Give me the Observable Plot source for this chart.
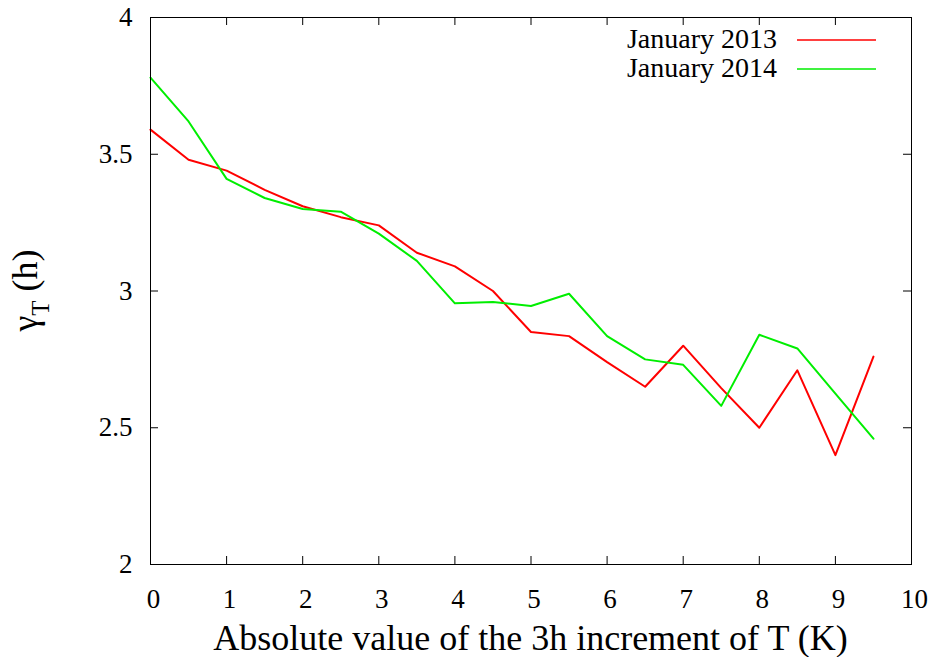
<!DOCTYPE html>
<html>
<head>
<meta charset="utf-8">
<script src="https://cdn.jsdelivr.net/npm/d3@7"></script>
<script src="https://cdn.jsdelivr.net/npm/@observablehq/plot@0.6"></script>
<style>
  html, body { margin: 0; padding: 0; background: #fff; }
  #chart svg { display: block; }
  #chart svg, #chart svg text {
    font-family: "Liberation Serif", "Tinos", "Nimbus Roman", "Nimbus Roman No9 L", "FreeSerif",
                 "Times New Roman", "Times", "DejaVu Serif", "Noto Serif", serif;
  }
</style>
</head>
<body>
<div id="chart"></div>
<script>
// Absolute 3h temperature increment (K), binned every 0.5 K
const increments = [0, 0.5, 1, 1.5, 2, 2.5, 3, 3.5, 4, 4.5, 5, 5.5, 6, 6.5, 7, 7.5, 8, 8.5, 9, 9.5];

// gamma_T (h) for each month
const jan2013 = [3.59, 3.48, 3.44, 3.37, 3.31, 3.27, 3.24, 3.14, 3.09, 3.00,
                 2.85, 2.835, 2.74, 2.65, 2.80, 2.645, 2.50, 2.71, 2.40, 2.76];
const jan2014 = [3.78, 3.62, 3.41, 3.34, 3.30, 3.29, 3.21, 3.11, 2.955, 2.96,
                 2.945, 2.99, 2.835, 2.75, 2.73, 2.58, 2.84, 2.79, 2.625, 2.46];

const seriesNames = ["January 2013", "January 2014"];
const seriesColors = ["#ff0000", "#00ee00"];

const xTicks = [0, 1, 2, 3, 4, 5, 6, 7, 8, 9, 10];
const yTicks = [2, 2.5, 3, 3.5, 4];
const yTickLabels = ["2", "2.5", "3", "3.5", "4"];

const W = 935, H = 657;
const mL = 150, mR = 24, mT = 17, mB = 93;
const innerW = W - mL - mR, innerH = H - mT - mB;
const tickLen = 8;

const chart = Plot.plot({
  width: W,
  height: H,
  marginLeft: mL,
  marginRight: mR,
  marginTop: mT,
  marginBottom: mB,
  style: { fontSize: "27px", background: "#fff", color: "#000" },
  x: { domain: [0, 10] },
  y: { domain: [2, 4] },
  marks: [
    // inward ticks on all four sides of the frame
    Plot.tickX(xTicks, { x: d => d, insetTop: innerH - tickLen, stroke: "#000" }),
    Plot.tickX(xTicks, { x: d => d, insetBottom: innerH - tickLen, stroke: "#000" }),
    Plot.tickY(yTicks, { y: d => d, insetRight: innerW - tickLen, stroke: "#000" }),
    Plot.tickY(yTicks, { y: d => d, insetLeft: innerW - tickLen, stroke: "#000" }),
    Plot.axisX(xTicks, { anchor: "bottom", tickSize: 0, tickPadding: 24, label: null, fontSize: 27, dx: 3 }),
    Plot.axisY(yTicks, { anchor: "left", tickSize: 0, tickPadding: 18, label: null, fontSize: 27,
                         tickFormat: d => yTickLabels[yTicks.indexOf(d)] }),
    Plot.lineY(jan2013, { x: increments, stroke: seriesColors[0], strokeWidth: 2 }),
    Plot.lineY(jan2014, { x: increments, stroke: seriesColors[1], strokeWidth: 2 }),
    Plot.frame({ stroke: "#000", strokeWidth: 1 })
  ]
});

document.getElementById("chart").appendChild(chart);

const svg = d3.select(chart);
const xs = chart.scale("x"), ys = chart.scale("y");

// x-axis title
svg.append("text")
  .attr("x", (xs.apply(0) + xs.apply(10)) / 2)
  .attr("y", H - 7)
  .attr("text-anchor", "middle")
  .attr("font-size", 36)
  .attr("fill", "#000")
  .text("Absolute value of the 3h increment of T (K)");

// y-axis title with subscript
const yl = svg.append("text")
  .attr("transform", `translate(37,${(ys.apply(2) + ys.apply(4)) / 2}) rotate(-90)`)
  .attr("text-anchor", "middle")
  .attr("font-size", 36)
  .attr("fill", "#000");
yl.append("tspan").text("γ");
yl.append("tspan").attr("dy", 12).attr("font-size", 25).text("T");
yl.append("tspan").attr("dy", -12).text(" (h)");

// key in the upper right corner
const key = svg.append("g").attr("font-size", 28).attr("fill", "#000");
seriesNames.forEach((name, i) => {
  const yBase = 48 + i * 29;
  key.append("text")
    .attr("x", 777)
    .attr("y", yBase)
    .attr("text-anchor", "end")
    .text(name);
  key.append("line")
    .attr("x1", 797).attr("x2", 876)
    .attr("y1", yBase - 8).attr("y2", yBase - 8)
    .attr("stroke", seriesColors[i])
    .attr("stroke-width", 1.5);
});
</script>
</body>
</html>
